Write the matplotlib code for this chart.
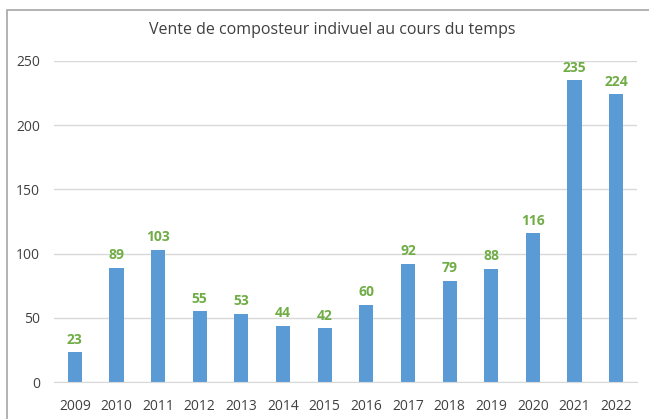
import matplotlib
matplotlib.use("Agg")
import matplotlib.pyplot as plt
from matplotlib.patches import Rectangle

years = ["2009", "2010", "2011", "2012", "2013", "2014", "2015", "2016",
         "2017", "2018", "2019", "2020", "2021", "2022"]
ventes = [23, 89, 103, 55, 53, 44, 42, 60, 92, 79, 88, 116, 235, 224]
yticks = [0, 50, 100, 150, 200, 250]

plt.rcParams['font.family'] = ['Open Sans', 'DejaVu Sans']

fig = plt.figure(figsize=(6.49, 4.19), dpi=100)
ax = fig.add_axes([54/649, 1-382/419, (637-54)/649, (382-61)/419])

x = list(range(len(years)))
bars = ax.bar(x, ventes, width=0.34, color="#5B9BD5", zorder=3)
for xi, v in zip(x, ventes):
    ax.annotate(str(v), (xi, v), xytext=(0, 4), textcoords="offset points",
                ha="center", va="bottom", color="#70AD47", fontsize=10,
                fontweight="bold")

ax.set_xlim(-0.5, len(years) - 0.5)
ax.set_ylim(0, 250)
ax.set_yticks(yticks)
ax.set_yticklabels([str(t) for t in yticks])
ax.set_xticks(x)
ax.set_xticklabels(years)
ax.yaxis.grid(True, color="#D9D9D9", linewidth=1, zorder=0)
for s in ["top", "right", "left"]:
    ax.spines[s].set_visible(False)
ax.spines["bottom"].set_color("#D9D9D9")
ax.spines["bottom"].set_zorder(4)
ax.tick_params(axis="both", length=0, colors="#404040", labelsize=10)
ax.tick_params(axis="x", pad=12)
ax.tick_params(axis="y", pad=10)

fig.text(332/649, 1-30/419, "Vente de composteur indivuel au cours du temps",
         ha="center", va="center", fontsize=11.5, color="#404040")

fig.patches.append(Rectangle((7/649, -0.1), 1.2, 1 - 10/419 + 0.1,
                             transform=fig.transFigure, fill=False,
                             edgecolor="#A6A6A6", linewidth=1.2))

fig.savefig("out.png", dpi=100)
